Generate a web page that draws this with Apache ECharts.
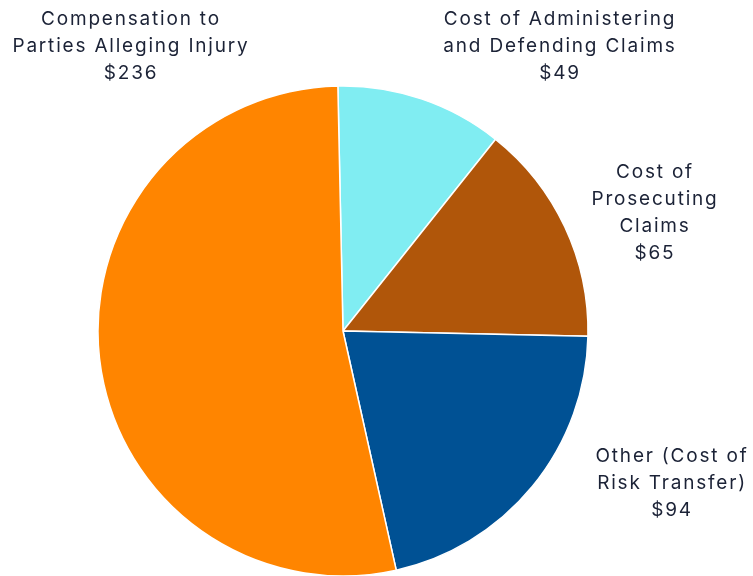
<!DOCTYPE html>
<html lang="en">
<head>
    <meta charset="UTF-8">
    <title>Claims cost breakdown</title>
    <script src="https://cdn.jsdelivr.net/npm/echarts@6/dist/echarts.min.js"></script>
    <style>
        html, body { margin: 0; padding: 0; background: #fff; }
    </style>
</head>
<body>
<div id="main" style="width: 753px;height:576px;"></div>

<script type="text/javascript">
    // data
    var categories = [
        'Cost of Administering\nand Defending Claims',
        'Cost of\nProsecuting\nClaims',
        'Other (Cost of\nRisk Transfer)',
        'Compensation to\nParties Alleging Injury'
    ];
    var values = [49, 65, 94, 236];
    var colors = ['#80EDF2', '#B0560A', '#005194', '#FF8500'];

    // where each label sits (centre of text block)
    var labelPos = [[560, 46], [655, 213], [672, 483], [131, 46]];

    // the labels in the original are set with a little tracking;
    // echarts has no letterSpacing option, so set it on the 2d context
    var origGetContext = HTMLCanvasElement.prototype.getContext;
    HTMLCanvasElement.prototype.getContext = function (type, opts) {
        var ctx = origGetContext.call(this, type, opts);
        if (ctx && type === '2d' && 'letterSpacing' in ctx) {
            ctx.letterSpacing = '1.8px';
        }
        return ctx;
    };

    var myChart = echarts.init(document.getElementById('main'));
    var option = {
        animation: false,
        series: [
            {
                type: 'pie',
                center: [343, 331],
                radius: 245,
                startAngle: 91.2,
                clockwise: true,
                data: values.map(function (v, i) {
                    return { name: categories[i], value: v, itemStyle: { color: colors[i] } };
                }),
                itemStyle: {
                    borderColor: '#fff',
                    borderWidth: 1.5
                },
                label: {
                    show: true,
                    position: 'outside',
                    overflow: 'none',
                    formatter: function (p) { return p.name + '\n$' + p.value; },
                    fontFamily: 'Inter',
                    fontSize: 19,
                    lineHeight: 27,
                    color: '#1B2236',
                    align: 'center'
                },
                labelLine: { show: false },
                labelLayout: function (params) {
                    var pos = labelPos[params.dataIndex];
                    return { x: pos[0], y: pos[1], align: 'center', verticalAlign: 'middle' };
                }
            }
        ]
    };
    myChart.setOption(option);
</script>
</body>
</html>
